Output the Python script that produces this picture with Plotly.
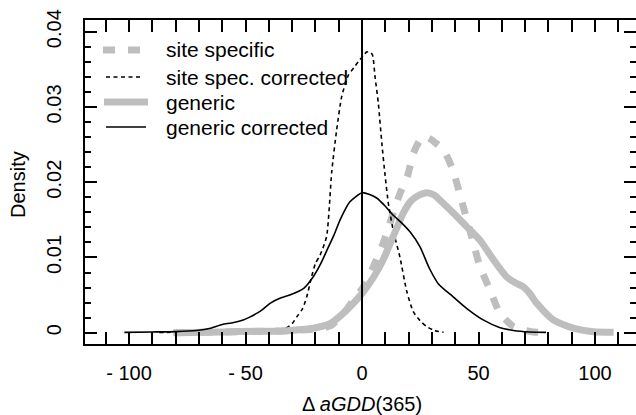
import plotly.graph_objects as go

# ---- data ----
site_specific_x = [-80, -60, -40, -30, -20, -13.7, -8, -4, 0.6, 4.9, 9.1, 13.4, 16.3, 19.5, 22, 24.5,
                   26.5, 29, 32, 35, 39, 43.5, 47.8, 50.6, 54.9, 59.2, 65, 70, 73.5, 78]
site_specific_y = [0.0000, 0.0001, 0.0002, 0.0003, 0.0005, 0.0009, 0.0025, 0.0042, 0.0061, 0.0088,
                   0.0119, 0.0159, 0.0185, 0.0208, 0.0238, 0.0254, 0.0261, 0.0258, 0.0251, 0.0243,
                   0.0216, 0.0167, 0.0119, 0.0088, 0.0057, 0.0026, 0.0008, 0.0003, 0.0001, 0.00005]

site_corr_x = [-87, -75, -65, -57, -52, -47, -40, -34, -30, -28, -25.5, -23.7, -21.6, -20, -18, -15.2,
               -13, -10.9, -8.7, -5.9, -3.5, -1.6, 0.5, 2.0, 3.5, 4.5, 5.6, 7.0, 8.5, 9.9, 11.3, 13.4,
               16.3, 19.2, 22, 24.9, 27.8, 31, 35]
site_corr_y = [0.00003, 0.0001, 0.0001, 0.00025, 0.0001, 0.0002, 0.0005, 0.0004, 0.0012, 0.0021,
               0.0032, 0.0048, 0.0075, 0.0092, 0.0103, 0.0128, 0.0214, 0.0269, 0.0314, 0.0342,
               0.0352, 0.0360, 0.0368, 0.0373, 0.0373, 0.0369, 0.0340, 0.0305, 0.0252, 0.0209,
               0.0172, 0.0136, 0.0100, 0.0055, 0.0028, 0.0016, 0.0008, 0.0003, 0.00005]

generic_x = [-81, -60, -45, -35, -27, -20.9, -13.7, -6.6, 0, 5, 9.1, 13.4, 17.7, 21, 24, 27.8, 31,
             33.5, 39.2, 44.9, 50.6, 56.4, 62.1, 66, 69.2, 72, 75, 82.1, 90.7, 99.3, 108]
generic_y = [0.0000, 0.0001, 0.0002, 0.0002, 0.0004, 0.0006, 0.0012, 0.0030, 0.0052, 0.0074, 0.0097,
             0.0128, 0.0159, 0.0175, 0.0182, 0.0186, 0.0183, 0.0176, 0.0159, 0.0141, 0.0123, 0.0097,
             0.0074, 0.0066, 0.0061, 0.0052, 0.0039, 0.0017, 0.0006, 0.00013, 0.00005]

gen_corr_x = [-102, -90, -80, -71, -65, -60, -56, -51, -48, -43, -39.5, -35, -31, -25, -21, -18, -15,
              -12, -9.4, -5.2, 0, 3, 6.3, 10, 13.4, 17, 20.6, 24.9, 29, 33, 39, 45, 52, 59, 65, 72, 79]
gen_corr_y = [0.00005, 0.0001, 0.00015, 0.0003, 0.0006, 0.0011, 0.0013, 0.0017, 0.0021, 0.0030,
              0.0039, 0.0046, 0.0050, 0.0059, 0.0074, 0.0090, 0.0110, 0.0130, 0.0150, 0.0174,
              0.0186, 0.0184, 0.0179, 0.0168, 0.0156, 0.0146, 0.0134, 0.0114, 0.0085, 0.0064,
              0.0048, 0.0032, 0.0017, 0.0007, 0.0003, 0.0001, 0.00005]

x_tickvals = [-100, -50, 0, 50, 100]
x_ticktext = ["- 100", "- 50", "0", "50", "100"]
y_tickvals = [0, 0.01, 0.02, 0.03, 0.04]
y_ticktext = ["0", "0.01", "0.02", "0.03", "0.04"]

legend_names = ["site specific", "site spec. corrected", "generic", "generic corrected"]

# ---- layout geometry ----
W, H = 636, 415
L, R, T, B = 85, 0, 20, 71
PW, PH = W - L - R, H - T - B
XR = [-118.9, 117.6]
YR = [-0.0015, 0.04155]
GRAY = "#bebebe"
FONT = "Liberation Sans, Arial, Helvetica, sans-serif"


def px(xp):
    return (xp - L) / PW


def py(yp):
    return (H - B - yp) / PH


styles = [
    dict(color=GRAY, width=7, dash="12px,13px"),
    dict(color="black", width=1.6, dash="4px,3.5px"),
    dict(color=GRAY, width=7, dash="solid"),
    dict(color="black", width=1.6, dash="solid"),
]
series = [(site_specific_x, site_specific_y), (site_corr_x, site_corr_y),
          (generic_x, generic_y), (gen_corr_x, gen_corr_y)]

fig = go.Figure()
for (xs, ys), st, nm in zip(series, styles, legend_names):
    fig.add_trace(go.Scatter(x=xs, y=ys, mode="lines", name=nm, showlegend=False,
                             line=dict(color=st["color"], width=st["width"], dash=st["dash"],
                                       shape="spline", smoothing=0.6)))

# right-side tick axis (no line)
fig.add_trace(go.Scatter(x=[None], y=[None], yaxis="y2", showlegend=False, hoverinfo="skip"))

axis_common = dict(ticks="inside", tickcolor="black", tickwidth=2, ticklen=12,
                   showgrid=False, zeroline=False, linecolor="black", linewidth=2,
                   tickfont=dict(family=FONT, size=20, color="black"))

fig.update_layout(
    width=W, height=H, margin=dict(l=L, r=R, t=T, b=B),
    paper_bgcolor="white", plot_bgcolor="white", showlegend=False,
    font=dict(family=FONT, color="black"),
    xaxis=dict(range=XR, tickvals=x_tickvals, ticktext=x_ticktext, showline=True,
               mirror="allticks", ticklabelstandoff=10,
               minor=dict(dtick=10, tick0=0, ticks="inside", ticklen=6, tickwidth=2, tickcolor="black"),
               **axis_common),
    yaxis=dict(range=YR, tickvals=y_tickvals, ticktext=y_ticktext, showline=True, mirror=False,
               tickangle=-90, ticklabelstandoff=14,
               minor=dict(dtick=0.002, tick0=0, ticks="inside", ticklen=6, tickwidth=2, tickcolor="black"),
               **axis_common),
    yaxis2=dict(range=YR, overlaying="y", side="right", tickvals=y_tickvals, showticklabels=False,
                ticks="inside", tickcolor="black", tickwidth=2, ticklen=12, showgrid=False,
                zeroline=False, showline=False,
                minor=dict(dtick=0.002, tick0=0, ticks="inside", ticklen=6, tickwidth=2, tickcolor="black")),
)

# vertical reference line at 0
fig.add_shape(type="line", xref="x", yref="paper", x0=0, x1=0, y0=0, y1=1,
              line=dict(color="black", width=2))

# manual legend
leg_y = [50, 77, 102, 127]
leg_x = [(103, 148), (106, 143), (104, 148), (106, 146)]
for (x0, x1), yy, st, nm in zip(leg_x, leg_y, styles, legend_names):
    fig.add_shape(type="line", xref="paper", yref="paper", x0=px(x0), x1=px(x1), y0=py(yy), y1=py(yy),
                  line=dict(color=st["color"], width=st["width"], dash=st["dash"]))
    fig.add_annotation(xref="paper", yref="paper", x=px(164), y=py(yy), text=nm, showarrow=False,
                       xanchor="left", yanchor="middle", font=dict(family=FONT, size=21, color="black"))

# axis titles
fig.add_annotation(xref="paper", yref="paper", x=px(362), y=py(404), text="Δ <i>aGDD</i>(365)",
                   showarrow=False, xanchor="center", yanchor="middle",
                   font=dict(family=FONT, size=20, color="black"))
fig.add_annotation(xref="paper", yref="paper", x=px(18), y=py(185), text="Density", textangle=-90,
                   showarrow=False, xanchor="center", yanchor="middle",
                   font=dict(family=FONT, size=20, color="black"))

fig.write_html("out.html", config={"displayModeBar": False},
               post_script="document.body.style.margin='0';document.body.style.overflow='hidden';")
